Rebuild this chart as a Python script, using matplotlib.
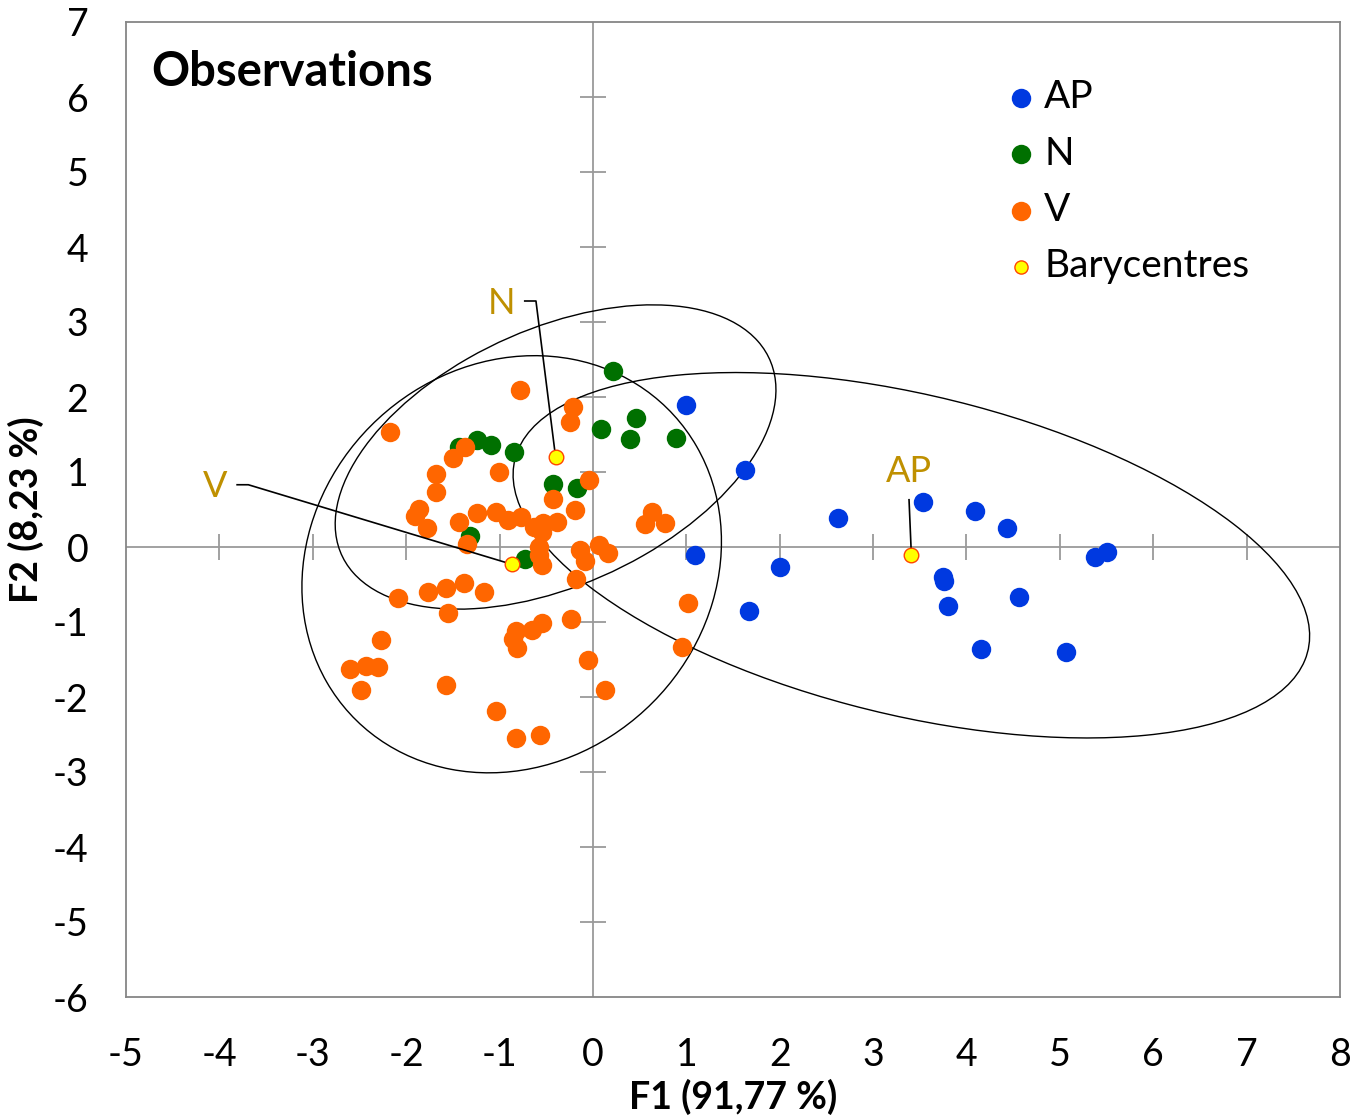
import numpy as np
import matplotlib
matplotlib.use("Agg")
import matplotlib.pyplot as plt
from matplotlib.patches import Ellipse

plt.rcParams['font.family'] = ['Lato', 'DejaVu Sans']
plt.rcParams['axes.unicode_minus'] = False

# Observations (F1, F2) per group
ap_x = [1.00, 1.63, 1.09, 2.00, 1.67, 2.62, 3.53, 4.09, 4.43, 3.75, 3.76, 3.80,
        4.56, 4.16, 5.07, 5.38, 5.50]
ap_y = [1.90, 1.03, -0.11, -0.26, -0.85, 0.39, 0.60, 0.48, 0.26, -0.40, -0.45, -0.78,
        -0.67, -1.36, -1.40, -0.13, -0.06]

n_x = [0.21, 0.09, 0.46, 0.40, 0.89, -1.24, -1.43, -1.09, -0.84, -0.43, -0.17, -1.32, -0.73]
n_y = [2.35, 1.58, 1.72, 1.44, 1.46, 1.43, 1.34, 1.36, 1.27, 0.84, 0.79, 0.15, -0.16]

v_x = [-0.78, -2.17, -0.21, -0.25, -1.37, -1.50, -1.01, -1.68, -1.68, -0.04,
       -0.43, -0.19, -1.86, -1.91, -1.78, -1.43, -1.24, -1.04, -0.91, -0.77,
       -0.63, -0.53, -0.39, -0.55, 0.63, 0.56, 0.77, -1.35, -0.58, -0.58,
       -0.54, -0.14, -0.09, 0.07, 0.16, -0.18, 1.02, -2.09, -1.77, -1.57,
       -1.38, -1.17, -1.55, -2.27, -2.60, -2.43, -2.30, -2.48, -1.57, -1.04,
       -0.82, -0.57, -0.82, -0.86, -0.81, -0.65, -0.54, -0.24, -0.05, 0.13, 0.95]
v_y = [2.09, 1.53, 1.87, 1.67, 1.34, 1.19, 1.00, 0.97, 0.74, 0.89,
       0.64, 0.49, 0.51, 0.42, 0.25, 0.34, 0.46, 0.47, 0.36, 0.40,
       0.27, 0.32, 0.34, 0.20, 0.47, 0.31, 0.32, 0.04, 0.00, -0.10,
       -0.24, -0.04, -0.18, 0.03, -0.08, -0.42, -0.75, -0.68, -0.60, -0.55,
       -0.48, -0.60, -0.88, -1.24, -1.63, -1.59, -1.60, -1.91, -1.84, -2.19,
       -2.54, -2.50, -1.12, -1.23, -1.35, -1.10, -1.01, -0.96, -1.51, -1.90, -1.33]

# barycentres and confidence ellipses (AP, N, V)
groups = ['AP', 'N', 'V']
bary_x = [3.41, -0.40, -0.87]
bary_y = [-0.11, 1.20, -0.23]
ell_width = [8.88, 5.32, 5.62]
ell_height = [4.20, 3.23, 4.42]
ell_angle = [-18.4, 35.5, 76.6]

# group labels with leader lines
label_x = [3.38, -0.975, -4.05]
label_y = [1.00, 3.25, 0.81]
leader_x = [[3.385, 3.41], [-0.73, -0.61, -0.40], [-3.81, -3.69, -0.87]]
leader_y = [[0.63, -0.11], [3.28, 3.28, 1.20], [0.83, 0.83, -0.23]]

blue = '#0039E0'
green = '#007000'
orange = '#FF6600'
gold = '#BF9000'

fig = plt.figure(figsize=(13.55, 11.16), dpi=100)
ax = fig.add_axes([126 / 1355, 119 / 1116, 1214 / 1355, 975 / 1116])

ax.set_xlim(-5, 8)
ax.set_ylim(-6, 7)
ax.set_xticks(range(-5, 9))
ax.set_yticks(range(-6, 8))
ax.tick_params(length=0, labelsize=27, pad=29)
ax.tick_params(axis='y', pad=27)
for s in ax.spines.values():
    s.set_color('#868686')
    s.set_linewidth(1.3)

# axes through origin with cross ticks
ax.axhline(0, color='#9a9a9a', lw=1.3, zorder=1)
ax.axvline(0, color='#9a9a9a', lw=1.3, zorder=1)
xt = [t for t in range(-4, 8) if t != 0]
yt = [t for t in range(-5, 7) if t != 0]
ax.plot(xt, [0] * len(xt), ls='none', marker='|', ms=19, mew=1.3, color='#9a9a9a', zorder=1)
ax.plot([0] * len(yt), yt, ls='none', marker='_', ms=19, mew=1.3, color='#9a9a9a', zorder=1)

for i in range(3):
    e = Ellipse((bary_x[i], bary_y[i]), ell_width[i], ell_height[i], angle=ell_angle[i],
                fill=False, ec='black', lw=1.0, zorder=2)
    ax.add_patch(e)

ax.scatter(ap_x, ap_y, s=196, color=blue, lw=0, zorder=3, label='AP')
ax.scatter(n_x, n_y, s=196, color=green, lw=0, zorder=3, label='N')
ax.scatter(v_x, v_y, s=196, color=orange, lw=0, zorder=3, label='V')

for i in range(3):
    ax.plot(leader_x[i], leader_y[i], color='black', lw=1.2, zorder=4)
    ax.text(label_x[i], label_y[i], groups[i], color=gold, fontsize=26,
            ha='center', va='center', zorder=5)

ax.scatter(bary_x, bary_y, s=110, color='#FFFF00', edgecolors='#FF4500', lw=1.0,
           zorder=6, label='Barycentres')

ax.text(0.021, 0.949, 'Observations', transform=ax.transAxes, fontsize=34,
        fontweight='bold', ha='left', va='center')

leg = ax.legend(loc='upper left', bbox_to_anchor=(0.702, 0.961), frameon=False,
                fontsize=28, handletextpad=0.0, labelspacing=0.52, borderpad=0,
                handlelength=1.2)
for h in leg.legend_handles[:3]:
    h.set_sizes([196])
leg.legend_handles[3].set_sizes([90])

ax.set_xlabel('F1 (91,77 %)', fontsize=27, fontweight='bold', labelpad=4)
ax.set_ylabel('F2 (8,23 %)', fontsize=27, fontweight='bold', labelpad=6)

fig.savefig('out.png', dpi=100)
